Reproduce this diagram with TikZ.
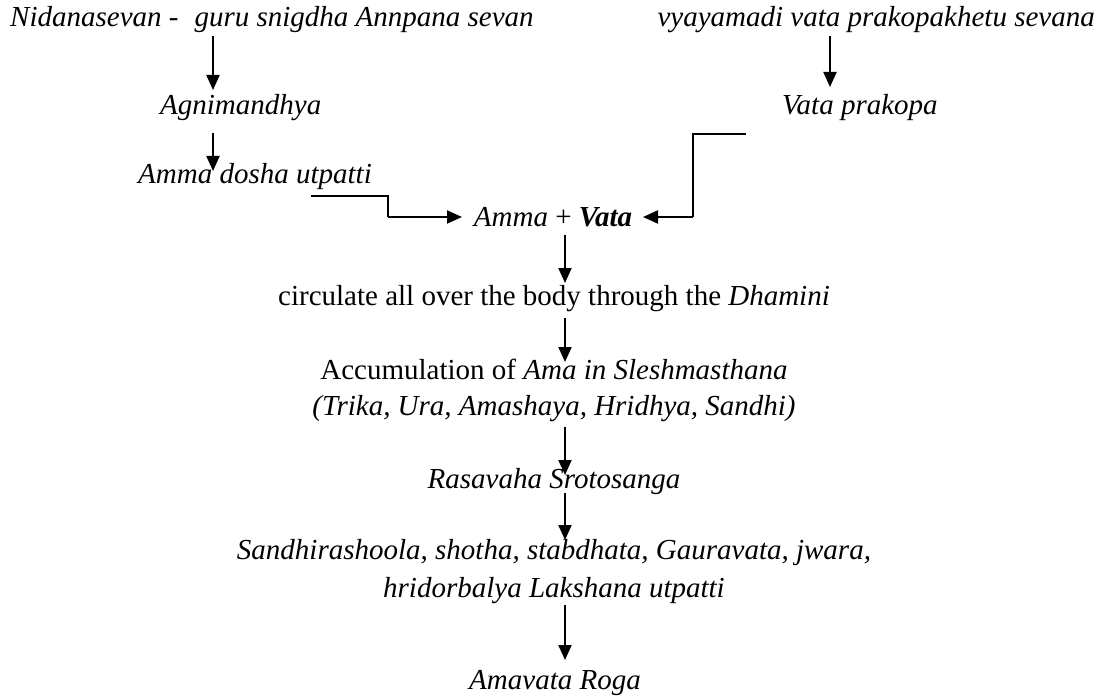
\documentclass[tikz,border=0pt]{standalone}
\usepackage{fontspec}
\setmainfont{Liberation Serif}
\usetikzlibrary{arrows.meta}
\tikzset{
  txt/.style={inner sep=0pt, font=\fontsize{29}{37}\selectfont},
  arr/.style={line width=2pt, -{Triangle[width=13pt,length=15pt]}},
  conn/.style={line width=2pt}
}
\begin{document}
\begin{tikzpicture}[x=1pt,y=-1pt]
\useasboundingbox (0,0) rectangle (1104,698);
% texts
\node[txt,anchor=base west] (t1) at (10,27) {\itshape Nidanasevan -\hspace{16pt}guru snigdha Annpana sevan};
\node[txt,anchor=base east] (t2) at (1095,27) {\itshape vyayamadi vata prakopakhetu sevana};
\node[txt,anchor=base west] (agni) at (160,115) {\itshape Agnimandhya};
\node[txt,anchor=base west] (vp) at (782,115) {\itshape Vata prakopa};
\node[txt,anchor=base west] (ad) at (138,184) {\itshape Amma dosha utpatti};
\node[txt,anchor=base] (av) at (553,226) {\textit{Amma} + \textbf{\textit{Vata}}};
\node[txt,anchor=base] (circ) at (554,305) {circulate all over the body through the \textit{Dhamini}};
\node[txt,anchor=base] (acc) at (554,379) {Accumulation of \textit{Ama in Sleshmasthana}};
\node[txt,anchor=base] (tri) at (554,415) {\textit{(Trika, Ura, Amashaya, Hridhya, Sandhi)}};
\node[txt,anchor=base] (ras) at (554,488) {\textit{Rasavaha Srotosanga}};
\node[txt,anchor=base] (san) at (554,559) {\textit{Sandhirashoola, shotha, stabdhata, Gauravata, jwara,}};
\node[txt,anchor=base] (hri) at (554,597) {\textit{hridorbalya Lakshana utpatti}};
\node[txt,anchor=base] (ama) at (555,689) {\textit{Amavata Roga}};
% arrow columns
\coordinate (cL) at (213,0);
\coordinate (cR) at (830,0);
\coordinate (cM) at (565,0);
% arrows
\draw[arr] (cL |- t1.south) ++(0,3) -- (cL |- 0,90);
\draw[arr] (cL |- 0,133) -- (cL |- 0,171);
\draw[arr] (cR |- t2.south) ++(0,3) -- (cR |- 0,87);
\draw[conn] (311,196) -- (388,196) -- (388,217);
\draw[arr] (388,217) -- (462,217);
\draw[conn] (746,134) -- (693,134) -- (693,217);
\draw[arr] (693,217) -- (643,217);
\draw[arr] (cM |- 0,235) -- (cM |- 0,283);
\draw[arr] (cM |- 0,318) -- (cM |- 0,362);
\draw[arr] (cM |- 0,427) -- (cM |- 0,475);
\draw[arr] (cM |- 0,493) -- (cM |- 0,540);
\draw[arr] (cM |- 0,605) -- (cM |- 0,660);
\end{tikzpicture}
\end{document}
